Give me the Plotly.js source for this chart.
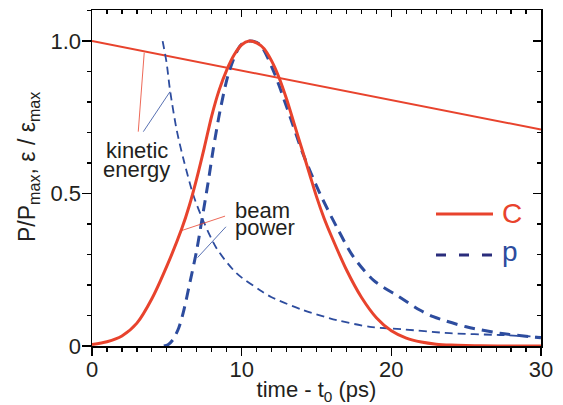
<!DOCTYPE html>
<html>
<head>
<meta charset="utf-8">
<script src="https://cdn.plot.ly/plotly-3.0.1.min.js"></script>
<style>html,body{margin:0;padding:0;background:#fff;}#chart{width:563px;height:405px;}</style>
</head>
<body>
<div id="chart"></div>
<script>
// --- data ---
// C: beam power (solid red)
var tC = [0, 1, 2, 3, 4, 5, 6, 6.5, 7, 7.5, 8, 8.5, 9, 9.5, 10, 10.5, 11, 11.5, 12, 12.5, 13, 13.5, 14, 14.5, 15, 15.5, 16, 17, 18, 19, 20, 21, 22, 23, 24, 25, 26, 28, 30];
var pC = [0.005, 0.014, 0.033, 0.075, 0.155, 0.262, 0.385, 0.46, 0.55, 0.65, 0.755, 0.84, 0.905, 0.955, 0.988, 1.0, 0.994, 0.975, 0.935, 0.88, 0.81, 0.73, 0.65, 0.57, 0.49, 0.42, 0.36, 0.25, 0.16, 0.093, 0.05, 0.026, 0.013, 0.006, 0.003, 0.0015, 0.0007, 0.0002, 0];
// C: kinetic energy (straight red line)
var tKC = [0, 30];
var eKC = [1.0, 0.71];
// p: beam power (thick dashed blue)
var tP = [4.8, 5.1, 5.43, 5.8, 6.1, 6.55, 7.0, 7.33, 7.77, 8.1, 8.55, 9.1, 9.67, 10.0, 10.55, 11.2, 12.1, 13.0, 14.1, 15.23, 16.35, 17.46, 18.8, 20.5, 21.9, 22.8, 25.0, 27.25, 30];
var pP = [0, 0.005, 0.022, 0.06, 0.11, 0.21, 0.315, 0.41, 0.54, 0.645, 0.77, 0.89, 0.965, 0.99, 1.0, 0.99, 0.905, 0.785, 0.63, 0.50, 0.39, 0.293, 0.216, 0.162, 0.118, 0.096, 0.063, 0.042, 0.027];
// p: kinetic energy (thin dashed blue)
var tKP = [4.72, 4.99, 5.21, 5.66, 6.1, 6.77, 7.44, 8.33, 9.67, 11.2, 12.0, 14.1, 16.35, 18.57, 20.7, 23.9, 27.25, 30];
var eKP = [1.0, 0.927, 0.84, 0.708, 0.615, 0.495, 0.41, 0.32, 0.238, 0.184, 0.16, 0.118, 0.085, 0.063, 0.055, 0.042, 0.036, 0.03];

var xTicks = [0, 10, 20, 30];
var xTickText = ['0', '10', '20', '30'];
var yTicks = [0, 0.5, 1.0];
var yTickText = ['0', '0.5', '1.0'];
var xMinor = [1,2,3,4,5,6,7,8,9,11,12,13,14,15,16,17,18,19,21,22,23,24,25,26,27,28,29];
var yMinor = [0.1,0.2,0.3,0.4,0.6,0.7,0.8,0.9,1.1];

var RED = '#E8432D', BLUE = '#2D4C9E', NAVY = '#2A2D7C', INK = '#231F20';
var FONT = 'Liberation Sans, Arial, Helvetica, sans-serif';

var traces = [
  {x: tKC, y: eKC, mode: 'lines', line: {color: RED, width: 2}, hoverinfo: 'skip', showlegend: false},
  {x: tKP, y: eKP, mode: 'lines', line: {color: BLUE, width: 1.8, dash: '8px,5px', shape: 'spline', smoothing: 0.8}, hoverinfo: 'skip', showlegend: false},
  {x: tP, y: pP, mode: 'lines', line: {color: BLUE, width: 3, dash: '11px,7px', shape: 'spline', smoothing: 0.8}, hoverinfo: 'skip', showlegend: false},
  {x: tC, y: pC, mode: 'lines', line: {color: RED, width: 3, shape: 'spline', smoothing: 0.8}, hoverinfo: 'skip', showlegend: false},
  {x: [0], y: [0], xaxis: 'x2', yaxis: 'y2', mode: 'markers', marker: {opacity: 0}, hoverinfo: 'skip', showlegend: false}
];

var axBase = {showgrid: false, zeroline: false, showline: true, linecolor: 'black', linewidth: 1.5, tickcolor: 'black', tickwidth: 1.3};

// plot-area geometry in pixels, used to place the paper-referenced extras
var L = 92, R = 22, T = 10, B = 59, W = 563, H = 405;
var PW = W - L - R, PH = H - T - B;
function px(x) { return (x - L) / PW; }
function py(y) { return (H - B - y) / PH; }

var layout = {
  width: W, height: H,
  margin: {l: L, r: R, t: T, b: B},
  paper_bgcolor: '#fff', plot_bgcolor: '#fff',
  font: {family: FONT, color: INK, size: 22},
  showlegend: false,
  xaxis: Object.assign({}, axBase, {
    range: [0, 30], tickmode: 'array', tickvals: xTicks, ticktext: xTickText,
    ticks: 'outside', ticklen: 8, tickfont: {size: 22}, ticklabelstandoff: -5,
    minor: {tickmode: 'array', tickvals: xMinor, ticks: 'outside', ticklen: 4, tickcolor: 'black', tickwidth: 1.2},
    title: {text: 'time - t<sub>0</sub> (ps)', font: {size: 22}, standoff: 2}
  }),
  yaxis: Object.assign({}, axBase, {
    range: [0, 1.102], tickmode: 'array', tickvals: yTicks, ticktext: yTickText,
    ticks: 'outside', ticklen: 9, tickfont: {size: 22}, ticklabelstandoff: -4,
    minor: {tickmode: 'array', tickvals: yMinor, ticks: 'outside', ticklen: 4, tickcolor: 'black', tickwidth: 1.2}
  }),
  xaxis2: Object.assign({}, axBase, {
    overlaying: 'x', side: 'top', anchor: 'y', range: [0, 30],
    tickmode: 'array', tickvals: xTicks, ticks: 'inside', ticklen: 7, showticklabels: false,
    minor: {tickmode: 'array', tickvals: xMinor, ticks: 'inside', ticklen: 4, tickcolor: 'black', tickwidth: 1.2}
  }),
  yaxis2: Object.assign({}, axBase, {
    overlaying: 'y', side: 'right', anchor: 'x', range: [0, 1.102],
    tickmode: 'array', tickvals: yTicks, ticks: 'inside', ticklen: 8, showticklabels: false,
    minor: {tickmode: 'array', tickvals: yMinor, ticks: 'inside', ticklen: 4, tickcolor: 'black', tickwidth: 1.2}
  }),
  shapes: [
    // leader lines for "kinetic energy"
    {type: 'line', xref: 'x', yref: 'y', x0: 3.49, y0: 0.962, x1: 3.09, y1: 0.703, line: {color: RED, width: 0.8}},
    {type: 'line', xref: 'x', yref: 'y', x0: 5.21, y0: 0.834, x1: 3.43, y1: 0.703, line: {color: BLUE, width: 0.8}},
    // leader lines for "beam power"
    {type: 'line', xref: 'x', yref: 'y', x0: 8.89, y0: 0.426, x1: 5.95, y1: 0.378, line: {color: RED, width: 0.8}},
    {type: 'line', xref: 'x', yref: 'y', x0: 8.95, y0: 0.391, x1: 7.05, y1: 0.29, line: {color: BLUE, width: 0.8}},
    // legend keys
    {type: 'line', xref: 'paper', yref: 'paper', x0: px(436), x1: px(493), y0: py(214), y1: py(214), line: {color: RED, width: 3}},
    {type: 'line', xref: 'paper', yref: 'paper', x0: px(436), x1: px(493), y0: py(255), y1: py(255), line: {color: NAVY, width: 3, dash: '10px,13px'}}
  ],
  annotations: [
    {text: 'P/P<sub>max</sub>, ε / ε<sub>max</sub>', textangle: -90, x: px(28), y: py(167), xref: 'paper', yref: 'paper', yanchor: 'middle', xanchor: 'center', showarrow: false, font: {size: 23, color: INK}},
    {text: 'kinetic', x: 3.0, y: 0.641, xref: 'x', yref: 'y', showarrow: false, xanchor: 'center', yanchor: 'middle', font: {size: 22, color: INK}},
    {text: 'energy', x: 2.97, y: 0.580, xref: 'x', yref: 'y', showarrow: false, xanchor: 'center', yanchor: 'middle', font: {size: 22, color: INK}},
    {text: 'beam', x: 9.40, y: 0.4436, xref: 'x', yref: 'y', showarrow: false, xanchor: 'left', yanchor: 'middle', font: {size: 22, color: INK}},
    {text: 'power', x: 9.40, y: 0.389, xref: 'x', yref: 'y', showarrow: false, xanchor: 'left', yanchor: 'middle', font: {size: 22, color: INK}},
    {text: 'C', x: px(500), y: py(213), xref: 'paper', yref: 'paper', showarrow: false, xanchor: 'left', yanchor: 'middle', font: {size: 28, color: RED}},
    {text: 'p', x: px(500), y: py(251), xref: 'paper', yref: 'paper', showarrow: false, xanchor: 'left', yanchor: 'middle', font: {size: 28, color: BLUE}}
  ]
};

Plotly.newPlot('chart', traces, layout, {staticPlot: true, displayModeBar: false});
</script>
</body>
</html>
